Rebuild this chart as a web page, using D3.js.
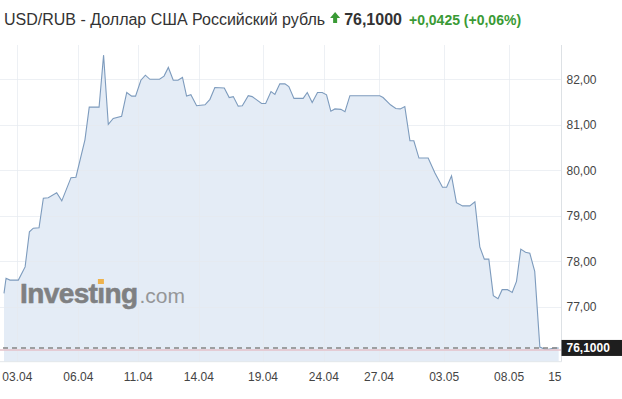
<!DOCTYPE html>
<html>
<head>
<meta charset="utf-8">
<script src="https://cdn.jsdelivr.net/npm/d3@7"></script>
<style>
  body { margin: 0; background: #fff; }
  svg { display: block; font-family: "Liberation Sans", Arial, sans-serif; }
</style>
</head>
<body>
<script>
// USD/RUB, trading-day position (0 = 03.04) and rate
const dayPos = [
  -0.65, -0.55, -0.36, 0.05, 0.38, 0.59, 0.78, 1.06, 1.27, 1.51,
  1.92, 2.17, 2.62, 2.86, 3.30, 3.51, 3.99, 4.21, 4.44, 4.68,
  5.09, 5.34, 5.58, 5.77, 6.03, 6.25, 6.47, 6.94, 7.16, 7.37,
  7.61, 7.84, 8.06, 8.26, 8.47, 8.75, 9.16, 9.40, 9.64, 10.10,
  10.34, 10.54, 10.78, 10.98, 11.27, 11.46, 11.92, 12.12, 12.38, 12.57,
  12.81, 13.06, 13.25, 13.50, 13.95, 14.15, 14.39, 14.65, 14.88, 15.09,
  15.30, 15.50, 15.79, 15.99, 16.23, 17.69, 17.85, 18.21, 18.47, 18.69,
  18.91, 19.16, 19.35, 19.60, 20.05, 20.38, 20.75, 20.95, 21.19, 21.43,
  21.73, 22.08, 22.33, 22.57, 22.79, 23.01, 23.23, 23.46, 23.66, 23.92,
  24.15, 24.36, 24.57, 24.80, 25.01, 25.25, 25.50, 25.74, 25.94, 26.19,
  26.42
];
const rate = [
  77.30, 77.63, 77.59, 77.59, 77.88, 78.65, 78.73, 78.74, 79.39, 79.40,
  79.51, 79.33, 79.84, 79.85, 80.67, 81.39, 81.39, 82.53, 81.01, 81.14,
  81.19, 81.71, 81.63, 81.63, 81.98, 82.09, 82.00, 82.00, 82.07, 82.26,
  81.98, 81.98, 82.04, 81.63, 81.66, 81.42, 81.44, 81.56, 81.82, 81.81,
  81.60, 81.62, 81.41, 81.42, 81.64, 81.62, 81.47, 81.47, 81.73, 81.67,
  81.90, 81.90, 81.84, 81.58, 81.58, 81.71, 81.49, 81.71, 81.71, 81.66,
  81.30, 81.35, 81.34, 81.29, 81.64, 81.64, 81.60, 81.44, 81.36, 81.35,
  81.40, 80.65, 80.65, 80.27, 80.27, 79.94, 79.63, 79.63, 79.88, 79.29,
  79.22, 79.22, 79.31, 78.32, 78.05, 78.05, 77.25, 77.18, 77.38, 77.38,
  77.32, 77.56, 78.27, 78.20, 78.18, 77.78, 76.12, 76.07, 76.07, 76.10,
  76.10
];

const dateLabels = ["03.04", "06.04", "11.04", "14.04", "19.04", "24.04", "27.04", "03.05", "08.05"];
const datePos = [0, 2.98, 5.9, 8.86, 11.99, 14.96, 17.65, 20.83, 24];
const endLabel = "15";
const endPos = 26.23;
const rateTicks = [77, 78, 79, 80, 81, 82];

const lastPrice = 76.1;
const change = 0.0425;
const changePct = 0.06;
const prevClose = lastPrice - change;

const width = 622, height = 399;
const plot = { left: 0, right: 561.5, top: 45, bottom: 361.7 };

const ru = d3.formatLocale({ decimal: ",", thousands: " ", grouping: [3], currency: ["", ""] });
const fmt2 = ru.format(".2f"), fmt4 = ru.format(".4f");

const x = d3.scaleLinear().domain([-0.65, 26.42]).range([4, 558.7]);
const y = d3.scaleLinear().domain([76, 82]).range([352.5, 79.3]);

const svg = d3.select("body").append("svg")
  .attr("width", width)
  .attr("height", height);

// grid
const grid = svg.append("g").attr("stroke", "#e6eaef").attr("stroke-width", 1);
grid.selectAll("line.h").data(rateTicks).join("line")
  .attr("x1", plot.left).attr("x2", plot.right)
  .attr("y1", d => Math.round(y(d)) + 0.5).attr("y2", d => Math.round(y(d)) + 0.5);
grid.selectAll("line.v").data(datePos).join("line")
  .attr("x1", d => Math.round(x(d)) + 0.5).attr("x2", d => Math.round(x(d)) + 0.5)
  .attr("y1", plot.top).attr("y2", plot.bottom);

// area + line
const area = d3.area()
  .x((d, i) => x(dayPos[i]))
  .y0(plot.bottom)
  .y1(d => y(d));
const line = d3.line()
  .x((d, i) => x(dayPos[i]))
  .y(d => y(d));

svg.append("path")
  .attr("d", area(rate))
  .attr("fill", "#dfe9f4")
  .attr("fill-opacity", 0.85);

// grid shows through the fill faintly
grid.raise().attr("stroke-opacity", 0.7);

svg.append("path")
  .attr("d", line(rate))
  .attr("fill", "none")
  .attr("stroke", "#7d9bbd")
  .attr("stroke-width", 1.1);

// watermark
const wm = svg.append("g").attr("opacity", 0.85);
const inv = wm.append("text")
  .attr("x", 20).attr("y", 303)
  .attr("font-size", 28).attr("font-weight", "bold")
  .attr("letter-spacing", -0.6)
  .attr("stroke", "#6e6e6e").attr("stroke-width", 0.6)
  .attr("fill", "#6e6e6e")
  .text("Investıng");
const invEnd = inv.node().getComputedTextLength() + 20;
const dot = inv.node().getExtentOfChar(6);
wm.append("rect")
  .attr("x", dot.x + dot.width / 2 - 3).attr("y", 279)
  .attr("width", 6).attr("height", 5)
  .attr("fill", "#f0a830");
wm.append("text")
  .attr("x", invEnd + 2).attr("y", 303)
  .attr("font-size", 21)
  .attr("fill", "#888")
  .text(".com");

// previous close + last price lines
svg.append("line")
  .attr("x1", plot.left).attr("x2", plot.right)
  .attr("y1", y(prevClose)).attr("y2", y(prevClose))
  .attr("stroke", "#e5c2ca").attr("stroke-width", 1.5);
svg.append("line")
  .attr("x1", plot.left + 3).attr("x2", plot.right)
  .attr("y1", y(lastPrice)).attr("y2", y(lastPrice))
  .attr("stroke", "#858585").attr("stroke-width", 1.6)
  .attr("stroke-dasharray", "5,4");

// right axis
svg.append("line")
  .attr("x1", plot.right).attr("x2", plot.right)
  .attr("y1", plot.top).attr("y2", plot.bottom)
  .attr("stroke", "#dde1e5");
svg.append("line")
  .attr("x1", plot.left).attr("x2", plot.right)
  .attr("y1", plot.bottom).attr("y2", plot.bottom)
  .attr("stroke", "#e3e7eb");

svg.append("g").selectAll("text").data(rateTicks).join("text")
  .attr("x", 566.5).attr("y", d => y(d)).attr("dy", "0.35em")
  .attr("font-size", 12).attr("fill", "#444")
  .text(d => fmt2(d));

// price tag
const tagY = y(lastPrice);
svg.append("rect")
  .attr("x", plot.right).attr("y", tagY - 8)
  .attr("width", width - plot.right).attr("height", 16)
  .attr("fill", "#1e1e1e");
svg.append("text")
  .attr("x", 566.5).attr("y", tagY).attr("dy", "0.36em")
  .attr("font-size", 12).attr("font-weight", "bold").attr("fill", "#fff")
  .text(fmt4(lastPrice));

// bottom axis labels
svg.append("g").selectAll("text").data(dateLabels).join("text")
  .attr("x", (d, i) => x(datePos[i])).attr("y", 377).attr("dy", "0.35em")
  .attr("text-anchor", "middle")
  .attr("font-size", 12).attr("fill", "#444")
  .text(d => d);
svg.append("text")
  .attr("x", x(endPos)).attr("y", 377).attr("dy", "0.35em")
  .attr("text-anchor", "middle")
  .attr("font-size", 12).attr("fill", "#444")
  .text(endLabel);

// header
const title = svg.append("text")
  .attr("x", 4).attr("y", 25)
  .attr("font-size", 16).attr("fill", "#333")
  .text("USD/RUB - Доллар США Российский рубль");
const titleEnd = 4 + title.node().getComputedTextLength();

const green = "#3a9a35";
svg.append("path")
  .attr("transform", `translate(${titleEnd + 10},0)`)
  .attr("d", "M0,12 L5,18 L2,18 L2,23 L-2,23 L-2,18 L-5,18 Z")
  .attr("fill", green);

const price = svg.append("text")
  .attr("x", titleEnd + 19).attr("y", 25)
  .attr("font-size", 16).attr("font-weight", "bold").attr("fill", "#333")
  .text(fmt4(lastPrice));
const priceEnd = titleEnd + 19 + price.node().getComputedTextLength();

svg.append("text")
  .attr("x", priceEnd + 7).attr("y", 25)
  .attr("font-size", 14).attr("font-weight", "bold").attr("fill", green)
  .text(`${ru.format("+.4f")(change)} (${ru.format("+.2f")(changePct)}%)`);
</script>
</body>
</html>
